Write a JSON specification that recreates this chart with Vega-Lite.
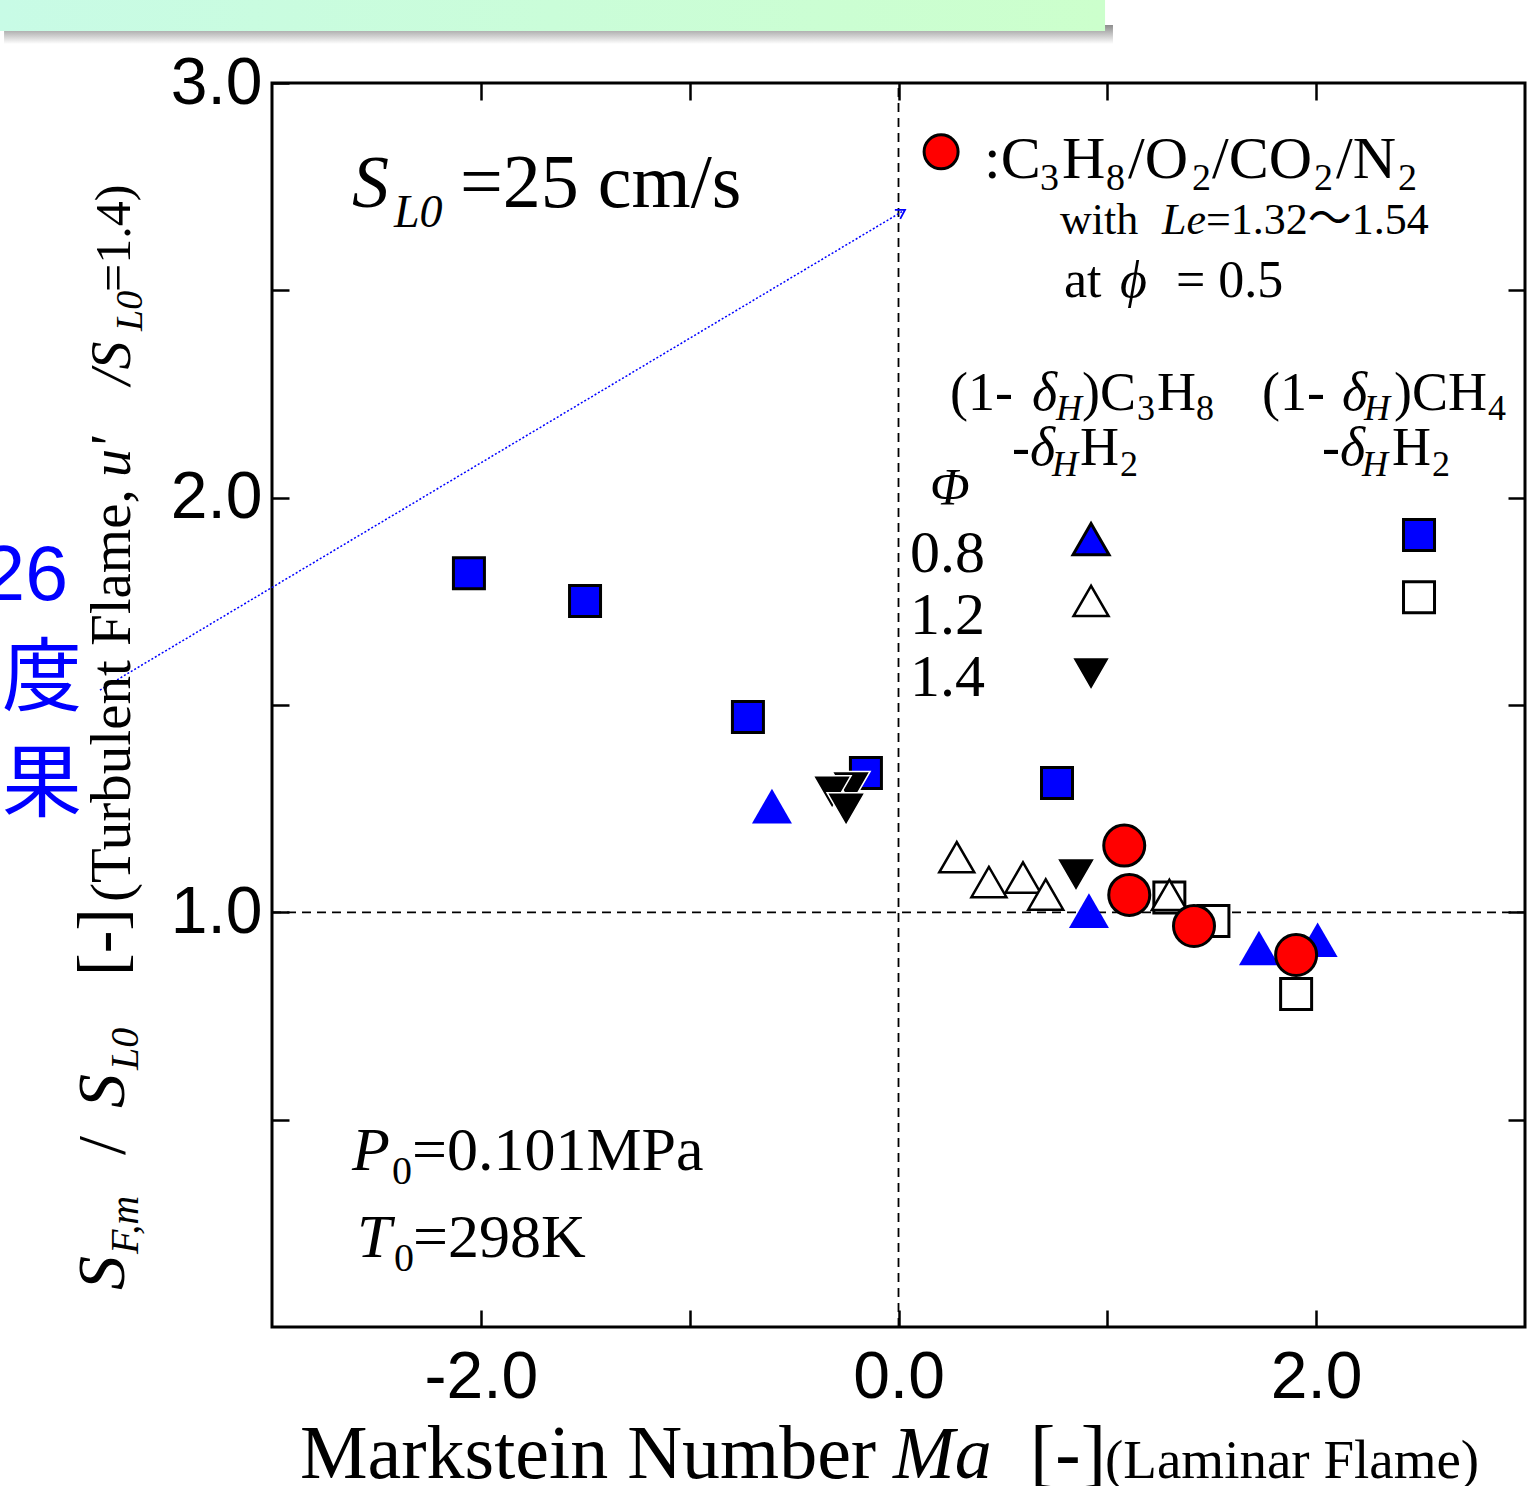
{
  "$schema": "https://vega.github.io/schema/vega-lite/v6.json",
  "width": 1253,
  "height": 1244,
  "autosize": {"type": "none"},
  "padding": {"left": 272, "top": 83, "right": 2, "bottom": 159},
  "background": "white",
  "config": {
    "view": {"stroke": "black", "strokeWidth": 3},
    "axis": {"domain": false, "grid": false, "tickColor": "black", "tickWidth": 2.5, "tickSize": -17, "labelFont": "Liberation Sans", "labelFontSize": 66, "labelColor": "black", "labelOverlap": false, "labelFlush": false, "labelBound": false}
  },
  "datasets": {
    "pts": [
      {"x": -2.057, "y": 1.818, "s": "CH4_08"},
      {"x": -1.501, "y": 1.751, "s": "CH4_08"},
      {"x": -0.721, "y": 1.471, "s": "CH4_08"},
      {"x": -0.156, "y": 1.336, "s": "CH4_08"},
      {"x": 0.759, "y": 1.312, "s": "CH4_08"},
      {"x": 2.4925, "y": 1.91, "s": "CH4_08"},
      {"x": 1.297, "y": 1.036, "s": "CH4_12"},
      {"x": 1.508, "y": 0.979, "s": "CH4_12"},
      {"x": 1.904, "y": 0.803, "s": "CH4_12"},
      {"x": 2.4925, "y": 1.76, "s": "CH4_12"},
      {"x": -0.606, "y": 1.256, "s": "C3H8_08"},
      {"x": 0.912, "y": 1.004, "s": "C3H8_08"},
      {"x": 1.726, "y": 0.914, "s": "C3H8_08"},
      {"x": 2.007, "y": 0.934, "s": "C3H8_08"},
      {"x": 0.922, "y": 1.9, "s": "C3H8_08L"},
      {"x": -0.227, "y": 1.3, "s": "C3H8_14"},
      {"x": -0.318, "y": 1.29, "s": "C3H8_14"},
      {"x": -0.251, "y": 1.249, "s": "C3H8_14"},
      {"x": 0.85, "y": 1.09, "s": "C3H8_14"},
      {"x": 0.922, "y": 1.575, "s": "C3H8_14"},
      {"x": 0.279, "y": 1.133, "s": "C3H8_12"},
      {"x": 0.433, "y": 1.073, "s": "C3H8_12"},
      {"x": 0.596, "y": 1.084, "s": "C3H8_12"},
      {"x": 0.705, "y": 1.043, "s": "C3H8_12"},
      {"x": 1.297, "y": 1.042, "s": "C3H8_12"},
      {"x": 0.922, "y": 1.751, "s": "C3H8_12"},
      {"x": 1.081, "y": 1.161, "s": "CO2"},
      {"x": 1.105, "y": 1.042, "s": "CO2"},
      {"x": 1.415, "y": 0.967, "s": "CO2"},
      {"x": 1.904, "y": 0.897, "s": "CO2"},
      {"x": 0.204, "y": 2.834, "s": "CO2L"}
    ],
    "rules": [
      {"x": 0, "y": 0, "y2": 3, "k": "v"},
      {"x": -3, "x2": 3, "y": 1, "k": "h"}
    ],
    "arrow": [{"x": -3.824, "y": 1.536, "x2": 0.031, "y2": 2.694}],
    "band": [{"x": -4.31, "x2": 0.989, "y": 3.212, "y2": 3.1254, "k": "banner"}, {"x": -4.283, "x2": 1.027, "y": 3.14, "y2": 3.094, "k": "shadow"}],
    "txt": [
      {"x": -2.866, "y": -0.364, "t": "Markstein Number", "g": "G1"},
      {"x": 0.63, "y": -0.364, "t": "[-]", "g": "G1"},
      {"x": -2.1, "y": 2.701, "t": "=25 cm/s", "g": "G1"},
      {"x": -0.026, "y": -0.364, "t": "Ma", "g": "G2"},
      {"x": -2.617, "y": 2.701, "t": "S", "g": "G2"},
      {"x": -2.416, "y": 2.653, "t": "L0", "g": "G4"},
      {"x": 0.989, "y": -0.364, "t": "(Laminar Flame)", "g": "G5"},
      {"x": 0.4095, "y": 2.771, "t": ":C", "g": "G6"},
      {"x": 0.783, "y": 2.771, "t": "H", "g": "G6"},
      {"x": 1.099, "y": 2.771, "t": "/O", "g": "G6"},
      {"x": 1.501, "y": 2.771, "t": "/CO", "g": "G6"},
      {"x": 2.095, "y": 2.771, "t": "/N", "g": "G6"},
      {"x": 0.055, "y": 1.821, "t": "0.8", "g": "G6"},
      {"x": 0.055, "y": 1.671, "t": "1.2", "g": "G6"},
      {"x": 0.055, "y": 1.522, "t": "1.4", "g": "G6"},
      {"x": 0.678, "y": 2.742, "t": "3", "g": "G7"},
      {"x": 0.994, "y": 2.742, "t": "8", "g": "G7"},
      {"x": 1.406, "y": 2.742, "t": "2", "g": "G7"},
      {"x": 1.99, "y": 2.742, "t": "2", "g": "G7"},
      {"x": 2.392, "y": 2.742, "t": "2", "g": "G7"},
      {"x": 0.773, "y": 2.636, "t": "with", "g": "G8"},
      {"x": 1.4725, "y": 2.636, "t": "=1.32～1.54", "g": "G8"},
      {"x": 1.262, "y": 2.636, "t": "Le", "g": "G9"},
      {"x": 0.7925, "y": 2.484, "t": "at", "g": "G10"},
      {"x": 1.329, "y": 2.484, "t": "= 0.5", "g": "G10"},
      {"x": 1.061, "y": 2.484, "t": "ϕ", "g": "G11"},
      {"x": 0.151, "y": 1.982, "t": "Φ", "g": "G11"},
      {"x": 0.247, "y": 2.211, "t": "(1- ", "g": "G12"},
      {"x": 0.879, "y": 2.211, "t": ")C", "g": "G12"},
      {"x": 1.238, "y": 2.211, "t": "H", "g": "G12"},
      {"x": 1.741, "y": 2.211, "t": "(1- ", "g": "G12"},
      {"x": 2.373, "y": 2.211, "t": ")CH", "g": "G12"},
      {"x": 0.5436, "y": 2.079, "t": "-", "g": "G12"},
      {"x": 0.869, "y": 2.079, "t": "H", "g": "G12"},
      {"x": 2.028, "y": 2.079, "t": "-", "g": "G12"},
      {"x": 2.363, "y": 2.079, "t": "H", "g": "G12"},
      {"x": 0.639, "y": 2.211, "t": "δ", "g": "G13"},
      {"x": 2.124, "y": 2.211, "t": "δ", "g": "G13"},
      {"x": 0.63, "y": 2.079, "t": "δ", "g": "G13"},
      {"x": 2.114, "y": 2.079, "t": "δ", "g": "G13"},
      {"x": 0.754, "y": 2.187, "t": "H", "g": "G14"},
      {"x": 2.229, "y": 2.187, "t": "H", "g": "G14"},
      {"x": 0.735, "y": 2.052, "t": "H", "g": "G14"},
      {"x": 2.2195, "y": 2.052, "t": "H", "g": "G14"},
      {"x": 1.142, "y": 2.187, "t": "3", "g": "G15"},
      {"x": 1.4246, "y": 2.187, "t": "8", "g": "G15"},
      {"x": 2.823, "y": 2.187, "t": "4", "g": "G15"},
      {"x": 1.061, "y": 2.052, "t": "2", "g": "G15"},
      {"x": 2.555, "y": 2.052, "t": "2", "g": "G15"},
      {"x": -2.617, "y": 0.379, "t": "P", "g": "G16"},
      {"x": -2.593, "y": 0.169, "t": "T", "g": "G16"},
      {"x": -2.33, "y": 0.379, "t": "=0.101MPa", "g": "G17"},
      {"x": -2.325, "y": 0.169, "t": "=298K", "g": "G17"},
      {"x": -2.425, "y": 0.345, "t": "0", "g": "G18"},
      {"x": -2.416, "y": 0.135, "t": "0", "g": "G18"},
      {"x": -3.709, "y": 0.089, "t": "S", "g": "R1"},
      {"x": -3.709, "y": 0.528, "t": "S", "g": "R1"},
      {"x": -3.642, "y": 0.176, "t": "F,m", "g": "R2"},
      {"x": -3.642, "y": 0.62, "t": "L0", "g": "R2"},
      {"x": -3.709, "y": 0.415, "t": "/", "g": "R3"},
      {"x": -3.709, "y": 0.8465, "t": "[-]", "g": "R3"},
      {"x": -3.68, "y": 1.025, "t": "(Turbulent Flame,", "g": "R4"},
      {"x": -3.68, "y": 2.0498, "t": "u'", "g": "R5"},
      {"x": -3.68, "y": 2.2717, "t": "/S", "g": "R5"},
      {"x": -3.623, "y": 2.402, "t": "L0", "g": "R6"},
      {"x": -3.68, "y": 2.496, "t": "=1.4)", "g": "R7"},
      {"x": -3.977, "y": 1.753, "t": "26", "g": "B1"},
      {"x": -3.91, "y": 1.502, "t": "度", "g": "B2"},
      {"x": -3.91, "y": 1.247, "t": "果", "g": "B2"}
    ]
  },
  "encoding": {
    "x": {"field": "x", "type": "quantitative", "scale": {"domain": [-3, 3], "nice": false, "zero": false}, "axis": null},
    "y": {"field": "y", "type": "quantitative", "scale": {"domain": [0, 3], "nice": false, "zero": false}, "axis": null}
  },
  "layer": [
    {
      "data": {"name": "band"},
      "transform": [{"filter": "datum.k === 'shadow'"}],
      "mark": {"type": "rect", "fill": {"x1": 0, "y1": 0, "x2": 0, "y2": 1, "gradient": "linear", "stops": [{"offset": 0, "color": "#8c8c8c"}, {"offset": 1, "color": "#ffffff"}]}},
      "encoding": {"x2": {"field": "x2"}, "y2": {"field": "y2"}}
    },
    {
      "data": {"name": "band"},
      "transform": [{"filter": "datum.k === 'banner'"}],
      "mark": {"type": "rect", "fill": {"x1": 0, "y1": 0, "x2": 1, "y2": 0, "gradient": "linear", "stops": [{"offset": 0, "color": "#c8fbe6"}, {"offset": 1, "color": "#ccffcc"}]}},
      "encoding": {"x2": {"field": "x2"}, "y2": {"field": "y2"}}
    },
    {
      "data": {"name": "rules"},
      "transform": [{"filter": "datum.k === 'v'"}],
      "mark": {"type": "rule", "color": "black", "strokeWidth": 1.8, "strokeDash": [9, 6]},
      "encoding": {
        "x": {"field": "x", "type": "quantitative", "scale": {"domain": [-3, 3], "nice": false, "zero": false},
              "axis": {"orient": "bottom", "title": null, "values": [-2, -1, 0, 1, 2], "labelPadding": 35,
                       "labelExpr": "datum.value === -2 ? '-2.0' : datum.value === 0 ? '0.0' : datum.value === 2 ? '2.0' : ''"}},
        "y": {"field": "y", "type": "quantitative", "scale": {"domain": [0, 3], "nice": false, "zero": false},
              "axis": {"orient": "left", "title": null, "values": [0.5, 1, 1.5, 2, 2.5, 3], "labelPadding": 27,
                       "labelExpr": "datum.value === 1 ? '1.0' : datum.value === 2 ? '2.0' : datum.value === 3 ? '3.0' : ''"}},
        "y2": {"field": "y2"}
      }
    },
    {
      "data": {"name": "rules"},
      "transform": [{"filter": "datum.k === 'h'"}],
      "mark": {"type": "rule", "color": "black", "strokeWidth": 1.8, "strokeDash": [9, 6]},
      "encoding": {
        "x": {"field": "x", "type": "quantitative", "scale": {"domain": [-3, 3], "nice": false, "zero": false},
              "axis": {"orient": "top", "title": null, "values": [-2, -1, 0, 1, 2], "labels": false}},
        "y": {"field": "y", "type": "quantitative", "scale": {"domain": [0, 3], "nice": false, "zero": false},
              "axis": {"orient": "right", "title": null, "values": [0.5, 1, 1.5, 2, 2.5], "labels": false}},
        "x2": {"field": "x2"}
      }
    },
    {
      "data": {"name": "arrow"},
      "mark": {"type": "rule", "color": "#0000ff", "strokeWidth": 1.5, "strokeDash": [2, 2]},
      "encoding": {"x2": {"field": "x2"}, "y2": {"field": "y2"}}
    },
    {
      "data": {"name": "arrow"},
      "mark": {"type": "point", "shape": "M -1 -0.6 L 0 0 L -1 0.6", "filled": false, "stroke": "#0000ff", "strokeWidth": 1.8, "size": 300, "angle": -31, "opacity": 1},
      "encoding": {
        "x": {"field": "x2", "type": "quantitative", "scale": {"domain": [-3, 3], "nice": false, "zero": false}, "axis": null},
        "y": {"field": "y2", "type": "quantitative", "scale": {"domain": [0, 3], "nice": false, "zero": false}, "axis": null}
      }
    },
    {
      "data": {"name": "pts"},
      "transform": [{"filter": "datum.s === 'CH4_08'"}],
      "mark": {"type": "point", "shape": "square", "filled": true, "fill": "#0000ff", "stroke": "black", "strokeWidth": 3, "size": 961, "opacity": 1}
    },
    {
      "data": {"name": "pts"},
      "transform": [{"filter": "datum.s === 'CH4_12'"}],
      "mark": {"type": "point", "shape": "square", "filled": true, "fill": "white", "stroke": "black", "strokeWidth": 3, "size": 961, "opacity": 1}
    },
    {
      "data": {"name": "pts"},
      "transform": [{"filter": "datum.s === 'C3H8_08'"}],
      "mark": {"type": "point", "shape": "triangle-up", "filled": true, "fill": "#0000ff", "strokeWidth": 0, "size": 1600, "opacity": 1}
    },
    {
      "data": {"name": "pts"},
      "transform": [{"filter": "datum.s === 'C3H8_08L'"}],
      "mark": {"type": "point", "shape": "triangle-up", "filled": true, "fill": "#0000ff", "stroke": "black", "strokeWidth": 3, "size": 1296, "opacity": 1}
    },
    {
      "data": {"name": "pts"},
      "transform": [{"filter": "datum.s === 'C3H8_14'"}],
      "mark": {"type": "point", "shape": "triangle-down", "filled": true, "fill": "black", "stroke": "white", "strokeWidth": 1.5, "size": 1444, "opacity": 1}
    },
    {
      "data": {"name": "pts"},
      "transform": [{"filter": "datum.s === 'C3H8_12'"}],
      "mark": {"type": "point", "shape": "triangle-up", "filled": true, "fill": "white", "stroke": "black", "strokeWidth": 2.5, "size": 1225, "opacity": 1}
    },
    {
      "data": {"name": "pts"},
      "transform": [{"filter": "datum.s === 'CO2'"}],
      "mark": {"type": "point", "shape": "circle", "filled": true, "fill": "#ff0000", "stroke": "black", "strokeWidth": 3, "size": 1681, "opacity": 1}
    },
    {
      "data": {"name": "pts"},
      "transform": [{"filter": "datum.s === 'CO2L'"}],
      "mark": {"type": "point", "shape": "circle", "filled": true, "fill": "#ff0000", "stroke": "black", "strokeWidth": 3, "size": 1156, "opacity": 1}
    },
    {"data": {"name": "txt"}, "transform": [{"filter": "datum.g === 'G1'"}], "mark": {"type": "text", "font": "Liberation Serif", "fontSize": 76, "align": "left", "baseline": "alphabetic", "color": "black"}, "encoding": {"text": {"field": "t"}}},
    {"data": {"name": "txt"}, "transform": [{"filter": "datum.g === 'G2'"}], "mark": {"type": "text", "font": "Liberation Serif", "fontStyle": "italic", "fontSize": 74, "align": "left", "baseline": "alphabetic", "color": "black"}, "encoding": {"text": {"field": "t"}}},
    {"data": {"name": "txt"}, "transform": [{"filter": "datum.g === 'G4'"}], "mark": {"type": "text", "font": "Liberation Serif", "fontStyle": "italic", "fontSize": 46, "align": "left", "baseline": "alphabetic", "color": "black"}, "encoding": {"text": {"field": "t"}}},
    {"data": {"name": "txt"}, "transform": [{"filter": "datum.g === 'G5'"}], "mark": {"type": "text", "font": "Liberation Serif", "fontSize": 55, "align": "left", "baseline": "alphabetic", "color": "black"}, "encoding": {"text": {"field": "t"}}},
    {"data": {"name": "txt"}, "transform": [{"filter": "datum.g === 'G6'"}], "mark": {"type": "text", "font": "Liberation Serif", "fontSize": 60, "align": "left", "baseline": "alphabetic", "color": "black"}, "encoding": {"text": {"field": "t"}}},
    {"data": {"name": "txt"}, "transform": [{"filter": "datum.g === 'G7'"}], "mark": {"type": "text", "font": "Liberation Serif", "fontSize": 38, "align": "left", "baseline": "alphabetic", "color": "black"}, "encoding": {"text": {"field": "t"}}},
    {"data": {"name": "txt"}, "transform": [{"filter": "datum.g === 'G8'"}], "mark": {"type": "text", "font": "Liberation Serif, Noto Sans CJK JP", "fontSize": 44, "align": "left", "baseline": "alphabetic", "color": "black"}, "encoding": {"text": {"field": "t"}}},
    {"data": {"name": "txt"}, "transform": [{"filter": "datum.g === 'G9'"}], "mark": {"type": "text", "font": "Liberation Serif", "fontStyle": "italic", "fontSize": 44, "align": "left", "baseline": "alphabetic", "color": "black"}, "encoding": {"text": {"field": "t"}}},
    {"data": {"name": "txt"}, "transform": [{"filter": "datum.g === 'G10'"}], "mark": {"type": "text", "font": "Liberation Serif", "fontSize": 52, "align": "left", "baseline": "alphabetic", "color": "black"}, "encoding": {"text": {"field": "t"}}},
    {"data": {"name": "txt"}, "transform": [{"filter": "datum.g === 'G11'"}], "mark": {"type": "text", "font": "Liberation Serif", "fontStyle": "italic", "fontSize": 52, "align": "left", "baseline": "alphabetic", "color": "black"}, "encoding": {"text": {"field": "t"}}},
    {"data": {"name": "txt"}, "transform": [{"filter": "datum.g === 'G12'"}], "mark": {"type": "text", "font": "Liberation Serif", "fontSize": 54, "align": "left", "baseline": "alphabetic", "color": "black"}, "encoding": {"text": {"field": "t"}}},
    {"data": {"name": "txt"}, "transform": [{"filter": "datum.g === 'G13'"}], "mark": {"type": "text", "font": "Liberation Serif", "fontStyle": "italic", "fontSize": 54, "align": "left", "baseline": "alphabetic", "color": "black"}, "encoding": {"text": {"field": "t"}}},
    {"data": {"name": "txt"}, "transform": [{"filter": "datum.g === 'G14'"}], "mark": {"type": "text", "font": "Liberation Serif", "fontStyle": "italic", "fontSize": 36, "align": "left", "baseline": "alphabetic", "color": "black"}, "encoding": {"text": {"field": "t"}}},
    {"data": {"name": "txt"}, "transform": [{"filter": "datum.g === 'G15'"}], "mark": {"type": "text", "font": "Liberation Serif", "fontSize": 36, "align": "left", "baseline": "alphabetic", "color": "black"}, "encoding": {"text": {"field": "t"}}},
    {"data": {"name": "txt"}, "transform": [{"filter": "datum.g === 'G16'"}], "mark": {"type": "text", "font": "Liberation Serif", "fontStyle": "italic", "fontSize": 62, "align": "left", "baseline": "alphabetic", "color": "black"}, "encoding": {"text": {"field": "t"}}},
    {"data": {"name": "txt"}, "transform": [{"filter": "datum.g === 'G17'"}], "mark": {"type": "text", "font": "Liberation Serif", "fontSize": 62, "align": "left", "baseline": "alphabetic", "color": "black"}, "encoding": {"text": {"field": "t"}}},
    {"data": {"name": "txt"}, "transform": [{"filter": "datum.g === 'G18'"}], "mark": {"type": "text", "font": "Liberation Serif", "fontSize": 40, "align": "left", "baseline": "alphabetic", "color": "black"}, "encoding": {"text": {"field": "t"}}},
    {"data": {"name": "txt"}, "transform": [{"filter": "datum.g === 'R1'"}], "mark": {"type": "text", "font": "Liberation Serif", "fontStyle": "italic", "fontSize": 68, "angle": 270, "align": "left", "baseline": "alphabetic", "color": "black"}, "encoding": {"text": {"field": "t"}}},
    {"data": {"name": "txt"}, "transform": [{"filter": "datum.g === 'R2'"}], "mark": {"type": "text", "font": "Liberation Serif", "fontStyle": "italic", "fontSize": 40, "angle": 270, "align": "left", "baseline": "alphabetic", "color": "black"}, "encoding": {"text": {"field": "t"}}},
    {"data": {"name": "txt"}, "transform": [{"filter": "datum.g === 'R3'"}], "mark": {"type": "text", "font": "Liberation Serif", "fontSize": 68, "angle": 270, "align": "left", "baseline": "alphabetic", "color": "black"}, "encoding": {"text": {"field": "t"}}},
    {"data": {"name": "txt"}, "transform": [{"filter": "datum.g === 'R4'"}], "mark": {"type": "text", "font": "Liberation Serif", "fontSize": 57, "angle": 270, "align": "left", "baseline": "alphabetic", "color": "black"}, "encoding": {"text": {"field": "t"}}},
    {"data": {"name": "txt"}, "transform": [{"filter": "datum.g === 'R5'"}], "mark": {"type": "text", "font": "Liberation Serif", "fontStyle": "italic", "fontSize": 56, "angle": 270, "align": "left", "baseline": "alphabetic", "color": "black"}, "encoding": {"text": {"field": "t"}}},
    {"data": {"name": "txt"}, "transform": [{"filter": "datum.g === 'R6'"}], "mark": {"type": "text", "font": "Liberation Serif", "fontStyle": "italic", "fontSize": 38, "angle": 270, "align": "left", "baseline": "alphabetic", "color": "black"}, "encoding": {"text": {"field": "t"}}},
    {"data": {"name": "txt"}, "transform": [{"filter": "datum.g === 'R7'"}], "mark": {"type": "text", "font": "Liberation Serif", "fontSize": 50, "angle": 270, "align": "left", "baseline": "alphabetic", "color": "black"}, "encoding": {"text": {"field": "t"}}},
    {"data": {"name": "txt"}, "transform": [{"filter": "datum.g === 'B1'"}], "mark": {"type": "text", "font": "Liberation Sans", "fontSize": 77, "align": "right", "baseline": "alphabetic", "color": "#0000ff"}, "encoding": {"text": {"field": "t"}}},
    {"data": {"name": "txt"}, "transform": [{"filter": "datum.g === 'B2'"}], "mark": {"type": "text", "font": "Noto Sans CJK JP", "fontSize": 80, "align": "right", "baseline": "alphabetic", "color": "#0000ff"}, "encoding": {"text": {"field": "t"}}}
  ],
  "resolve": {"axis": {"x": "independent", "y": "independent"}}
}
